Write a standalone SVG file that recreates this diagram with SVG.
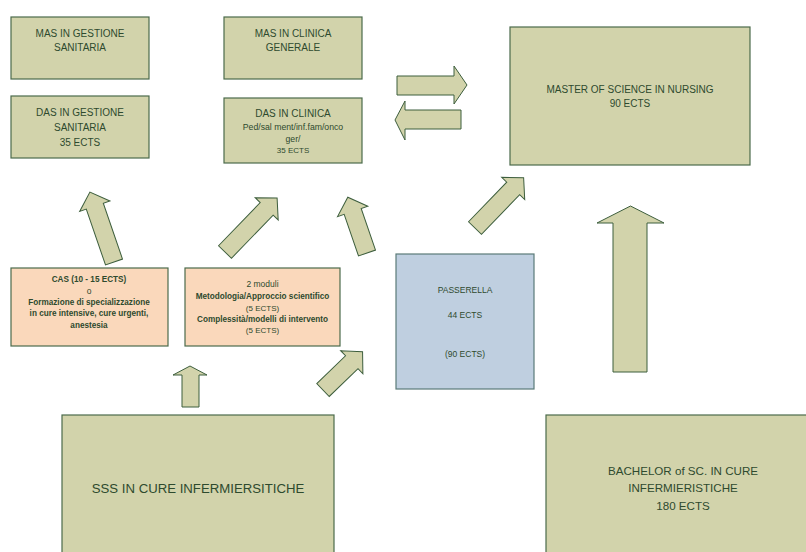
<svg xmlns="http://www.w3.org/2000/svg" width="806" height="552" viewBox="0 0 806 552">
<defs>
<style>
.box{fill:#d2d3ab;stroke:#4b6b4b;stroke-width:1.2}
.peach{fill:#fad8bb;stroke:#4b6b4b;stroke-width:1.2}
.blue{fill:#bfcfe0;stroke:#5b7b78;stroke-width:1.2}
.arr{fill:#d2d3ab;stroke:#3d5e3d;stroke-width:1}
text{font-family:"Liberation Sans",Arial,sans-serif;fill:#2e4a2e;text-anchor:middle;dominant-baseline:central}
.t10{font-size:10px}
.t8{font-size:8px}
.t87{font-size:8.7px}
.b8{font-size:8.2px;font-weight:bold}
.t85{font-size:8.5px}
.big{font-size:13.2px}
.mid{font-size:11.6px}
</style>
</defs>
<rect width="806" height="552" fill="#ffffff"/>

<g id="mas-gestione">
<rect class="box" x="11" y="17" width="138" height="62"/>
<text class="t10" x="80" y="33.5">MAS IN GESTIONE</text>
<text class="t10" x="80" y="47.5">SANITARIA</text>
</g>
<g id="mas-clinica">
<rect class="box" x="224" y="17" width="138" height="62"/>
<text class="t10" x="293" y="33.5">MAS IN CLINICA</text>
<text class="t10" x="293" y="47.5">GENERALE</text>
</g>
<g id="das-gestione">
<rect class="box" x="11" y="96" width="138" height="62"/>
<text class="t10" x="80" y="112.5">DAS IN GESTIONE</text>
<text class="t10" x="80" y="127">SANITARIA</text>
<text class="t10" x="80" y="142">35 ECTS</text>
</g>
<g id="das-clinica">
<rect class="box" x="224" y="98" width="138" height="65"/>
<text class="t10" x="293" y="113">DAS IN CLINICA</text>
<text class="t87" x="293" y="127">Ped/sal ment/inf.fam/onco</text>
<text class="t87" x="293" y="139">ger/</text>
<text class="t8" x="293" y="150">35 ECTS</text>
</g>
<g id="master">
<rect class="box" x="510" y="27" width="240" height="138"/>
<text class="t10" x="630" y="89">MASTER OF SCIENCE IN NURSING</text>
<text class="t10" x="630" y="103.5">90 ECTS</text>
</g>
<g id="cas">
<rect class="peach" x="11" y="268" width="157" height="78"/>
<text class="b8" x="89" y="279">CAS (10 - 15 ECTS)</text>
<text class="t85" x="89" y="290.5">o</text>
<text class="b8" x="89" y="302">Formazione di specializzazione</text>
<text class="b8" x="89" y="313.5">in cure intensive, cure urgenti,</text>
<text class="b8" x="89" y="325">anestesia</text>
</g>
<g id="moduli">
<rect class="peach" x="185" y="268" width="155" height="78"/>
<text class="t85" x="262.5" y="284">2 moduli</text>
<text class="b8" x="262.5" y="296.5">Metodologia/Approccio scientifico</text>
<text class="t8" x="262.5" y="308">(5 ECTS)</text>
<text class="b8" x="262.5" y="319">Complessità/modelli di intervento</text>
<text class="t8" x="262.5" y="330.5">(5 ECTS)</text>
</g>
<g id="passerella">
<rect class="blue" x="396" y="254" width="138" height="135"/>
<text class="t85" x="465" y="290">PASSERELLA</text>
<text class="t85" x="465" y="315">44 ECTS</text>
<text class="t85" x="465" y="354">(90 ECTS)</text>
</g>
<g id="sss">
<rect class="box" x="62" y="415" width="272" height="145"/>
<text class="big" x="198" y="488">SSS IN CURE INFERMIERSITICHE</text>
</g>
<g id="bachelor">
<rect class="box" x="546" y="415" width="270" height="145"/>
<text class="mid" x="683" y="470">BACHELOR of SC. IN CURE</text>
<text class="mid" x="683" y="487.5">INFERMIERISTICHE</text>
<text class="mid" x="683" y="505">180 ECTS</text>
</g>

<g id="connectors">
<path class="arr" d="M397,76 L454,76 L454,66 L467,85 L454,104 L454,95 L397,95 Z"/>
<path class="arr" d="M461,110 L405,110 L405,101 L395,120 L405,140 L405,129 L461,129 Z"/>
<path class="arr" d="M613,372 L613,223 L597,223 L630.5,206 L664,223 L647,223 L647,372 Z"/>
<path class="arr" d="M182,407 L182,375 L173,375 L190,366 L207,375 L199,375 L199,407 Z"/>
<path class="arr" transform="translate(114,262) rotate(-19)" d="M-9,0 L-9,-59 L-16,-59 L0,-74 L16,-59 L9,-59 L9,0 Z"/>
<path class="arr" transform="translate(225,252) rotate(44)" d="M-9,0 L-9,-60 L-16,-60 L0,-75 L16,-60 L9,-60 L9,0 Z"/>
<path class="arr" transform="translate(367,253) rotate(-19)" d="M-9,0 L-9,-44 L-16,-44 L0,-59 L16,-44 L9,-44 L9,0 Z"/>
<path class="arr" transform="translate(475,228) rotate(44)" d="M-9,0 L-9,-55 L-16,-55 L0,-70 L16,-55 L9,-55 L9,0 Z"/>
<path class="arr" transform="translate(323,390) rotate(46)" d="M-9,0 L-9,-40 L-16,-40 L0,-55 L16,-40 L9,-40 L9,0 Z"/>
</g>
</svg>
